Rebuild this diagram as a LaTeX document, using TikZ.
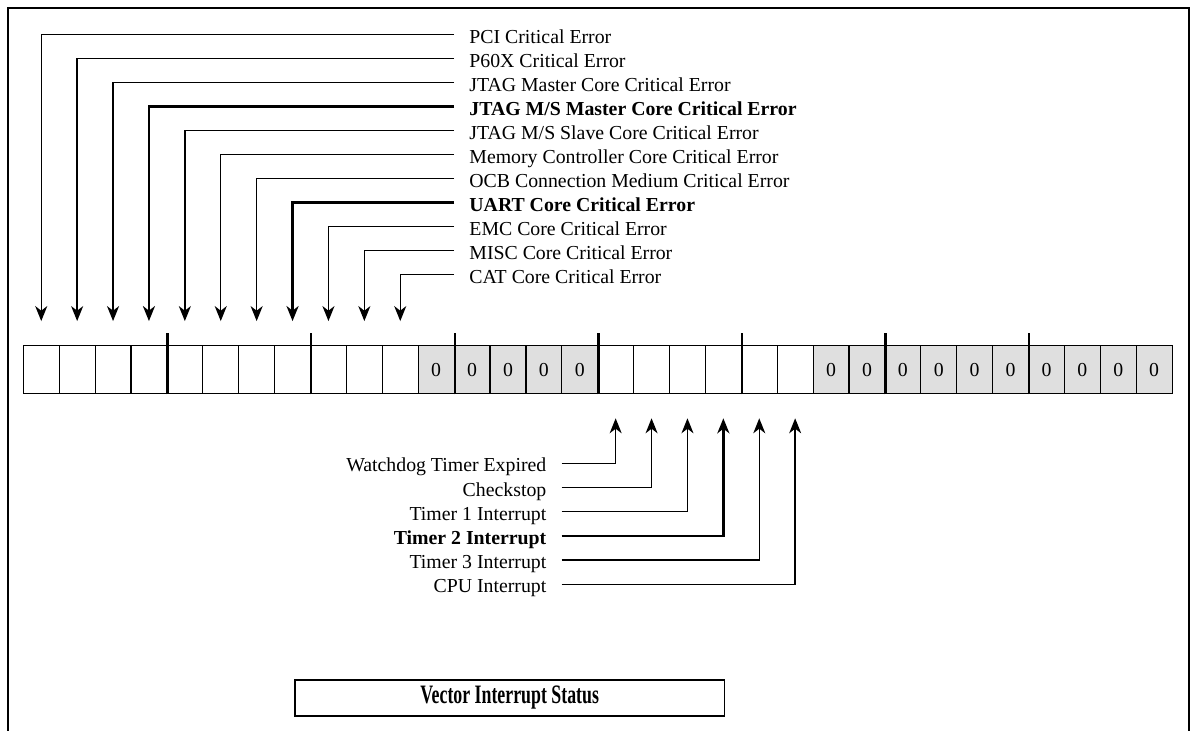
\documentclass[tikz,border=0pt]{standalone}
\usepackage{fontspec}
\setmainfont{Liberation Serif}
\usepackage{graphicx}
\usetikzlibrary{arrows.meta,positioning}

\tikzset{
  bit/.style={draw,line width=0.6pt,minimum width=17.95pt,minimum height=24pt,
    inner sep=0pt,font=\fontsize{9.9}{12}\selectfont},
  zerobit/.style={bit,fill=gray!25},
  nibble/.style={line width=1.2pt},
  errlbl/.style={anchor=west,inner xsep=7.5pt,inner ysep=0pt,text height=0.86em,
    text depth=0pt,font=\fontsize{9.9}{12}\selectfont},
  intlbl/.style={errlbl,anchor=east},
  sig/.style={line width=0.7pt,-{Stealth[length=7.5pt,width=6pt,inset=2.3pt]},
    shorten >=12pt},
  boldsig/.style={line width=1.3pt},
}

\begin{document}
\begin{tikzpicture}[x=0.5pt,y=-0.5pt]
  \useasboundingbox (0,0) rectangle (1197,731);

  % Outer frame
  \draw[line width=0.75pt] (8,731) -- (8,8) -- (1189,8) -- (1189,731);

  % Register bits
  \foreach \i in {1,...,11,17,18,19,20,21,22}
    \node[bit] (b\i) at ({23.3+(\i-0.5)*35.9},369.7) {};
  \foreach \i in {12,...,16,23,24,...,32}
    \node[zerobit] (b\i) at ({23.3+(\i-0.5)*35.9},369.7) {0};

  % Nibble boundaries
  \foreach \j in {4,8,...,28}
    \draw[nibble] (b\j.south east) -- ++(0,-61);

  % Critical error sources
  \node[errlbl] (e1) at (454,34.7) {PCI Critical Error};
  \node[errlbl] (e2) at (454,58.7) {P60X Critical Error};
  \node[errlbl] (e3) at (454,82.7) {JTAG Master Core Critical Error};
  \node[errlbl] (e4) at (454,106.7) {\bfseries JTAG M/S Master Core Critical Error};
  \node[errlbl] (e5) at (454,130.7) {JTAG M/S Slave Core Critical Error};
  \node[errlbl] (e6) at (454,154.7) {Memory Controller Core Critical Error};
  \node[errlbl] (e7) at (454,178.7) {OCB Connection Medium Critical Error};
  \node[errlbl] (e8) at (454,202.7) {\bfseries UART Core Critical Error};
  \node[errlbl] (e9) at (454,226.7) {EMC Core Critical Error};
  \node[errlbl] (e10) at (454,250.7) {MISC Core Critical Error};
  \node[errlbl] (e11) at (454,274.7) {CAT Core Critical Error};

  \foreach \k in {1,2,3,5,6,7,9,10,11}
    \draw[sig] (e\k.west) -| (b\k.north);
  \foreach \k in {4,8}
    \draw[sig,boldsig] (e\k.west) -| (b\k.north);

  % Interrupt sources
  \node[intlbl] (t1) at (561.7,463.3) {Watchdog Timer Expired};
  \node[intlbl] (t2) at (561.7,487.5) {Checkstop};
  \node[intlbl] (t3) at (561.7,511.7) {Timer 1 Interrupt};
  \node[intlbl] (t4) at (561.7,535.9) {\bfseries Timer 2 Interrupt};
  \node[intlbl] (t5) at (561.7,560.1) {Timer 3 Interrupt};
  \node[intlbl] (t6) at (561.7,584.3) {CPU Interrupt};

  \foreach \k/\c in {1/17,2/18,3/19,5/21,6/22}
    \draw[sig] (t\k.east) -| (b\c.south);
  \draw[sig,boldsig] (t4.east) -| (b20.south);

  % Caption box
  \node[draw,line width=0.75pt,minimum width=214.7pt,minimum height=18pt,inner sep=0pt]
    (title) at (509.7,698)
    {\scalebox{0.67}[1]{\fontsize{13.3}{16}\selectfont\bfseries Vector Interrupt Status}};
\end{tikzpicture}
\end{document}
